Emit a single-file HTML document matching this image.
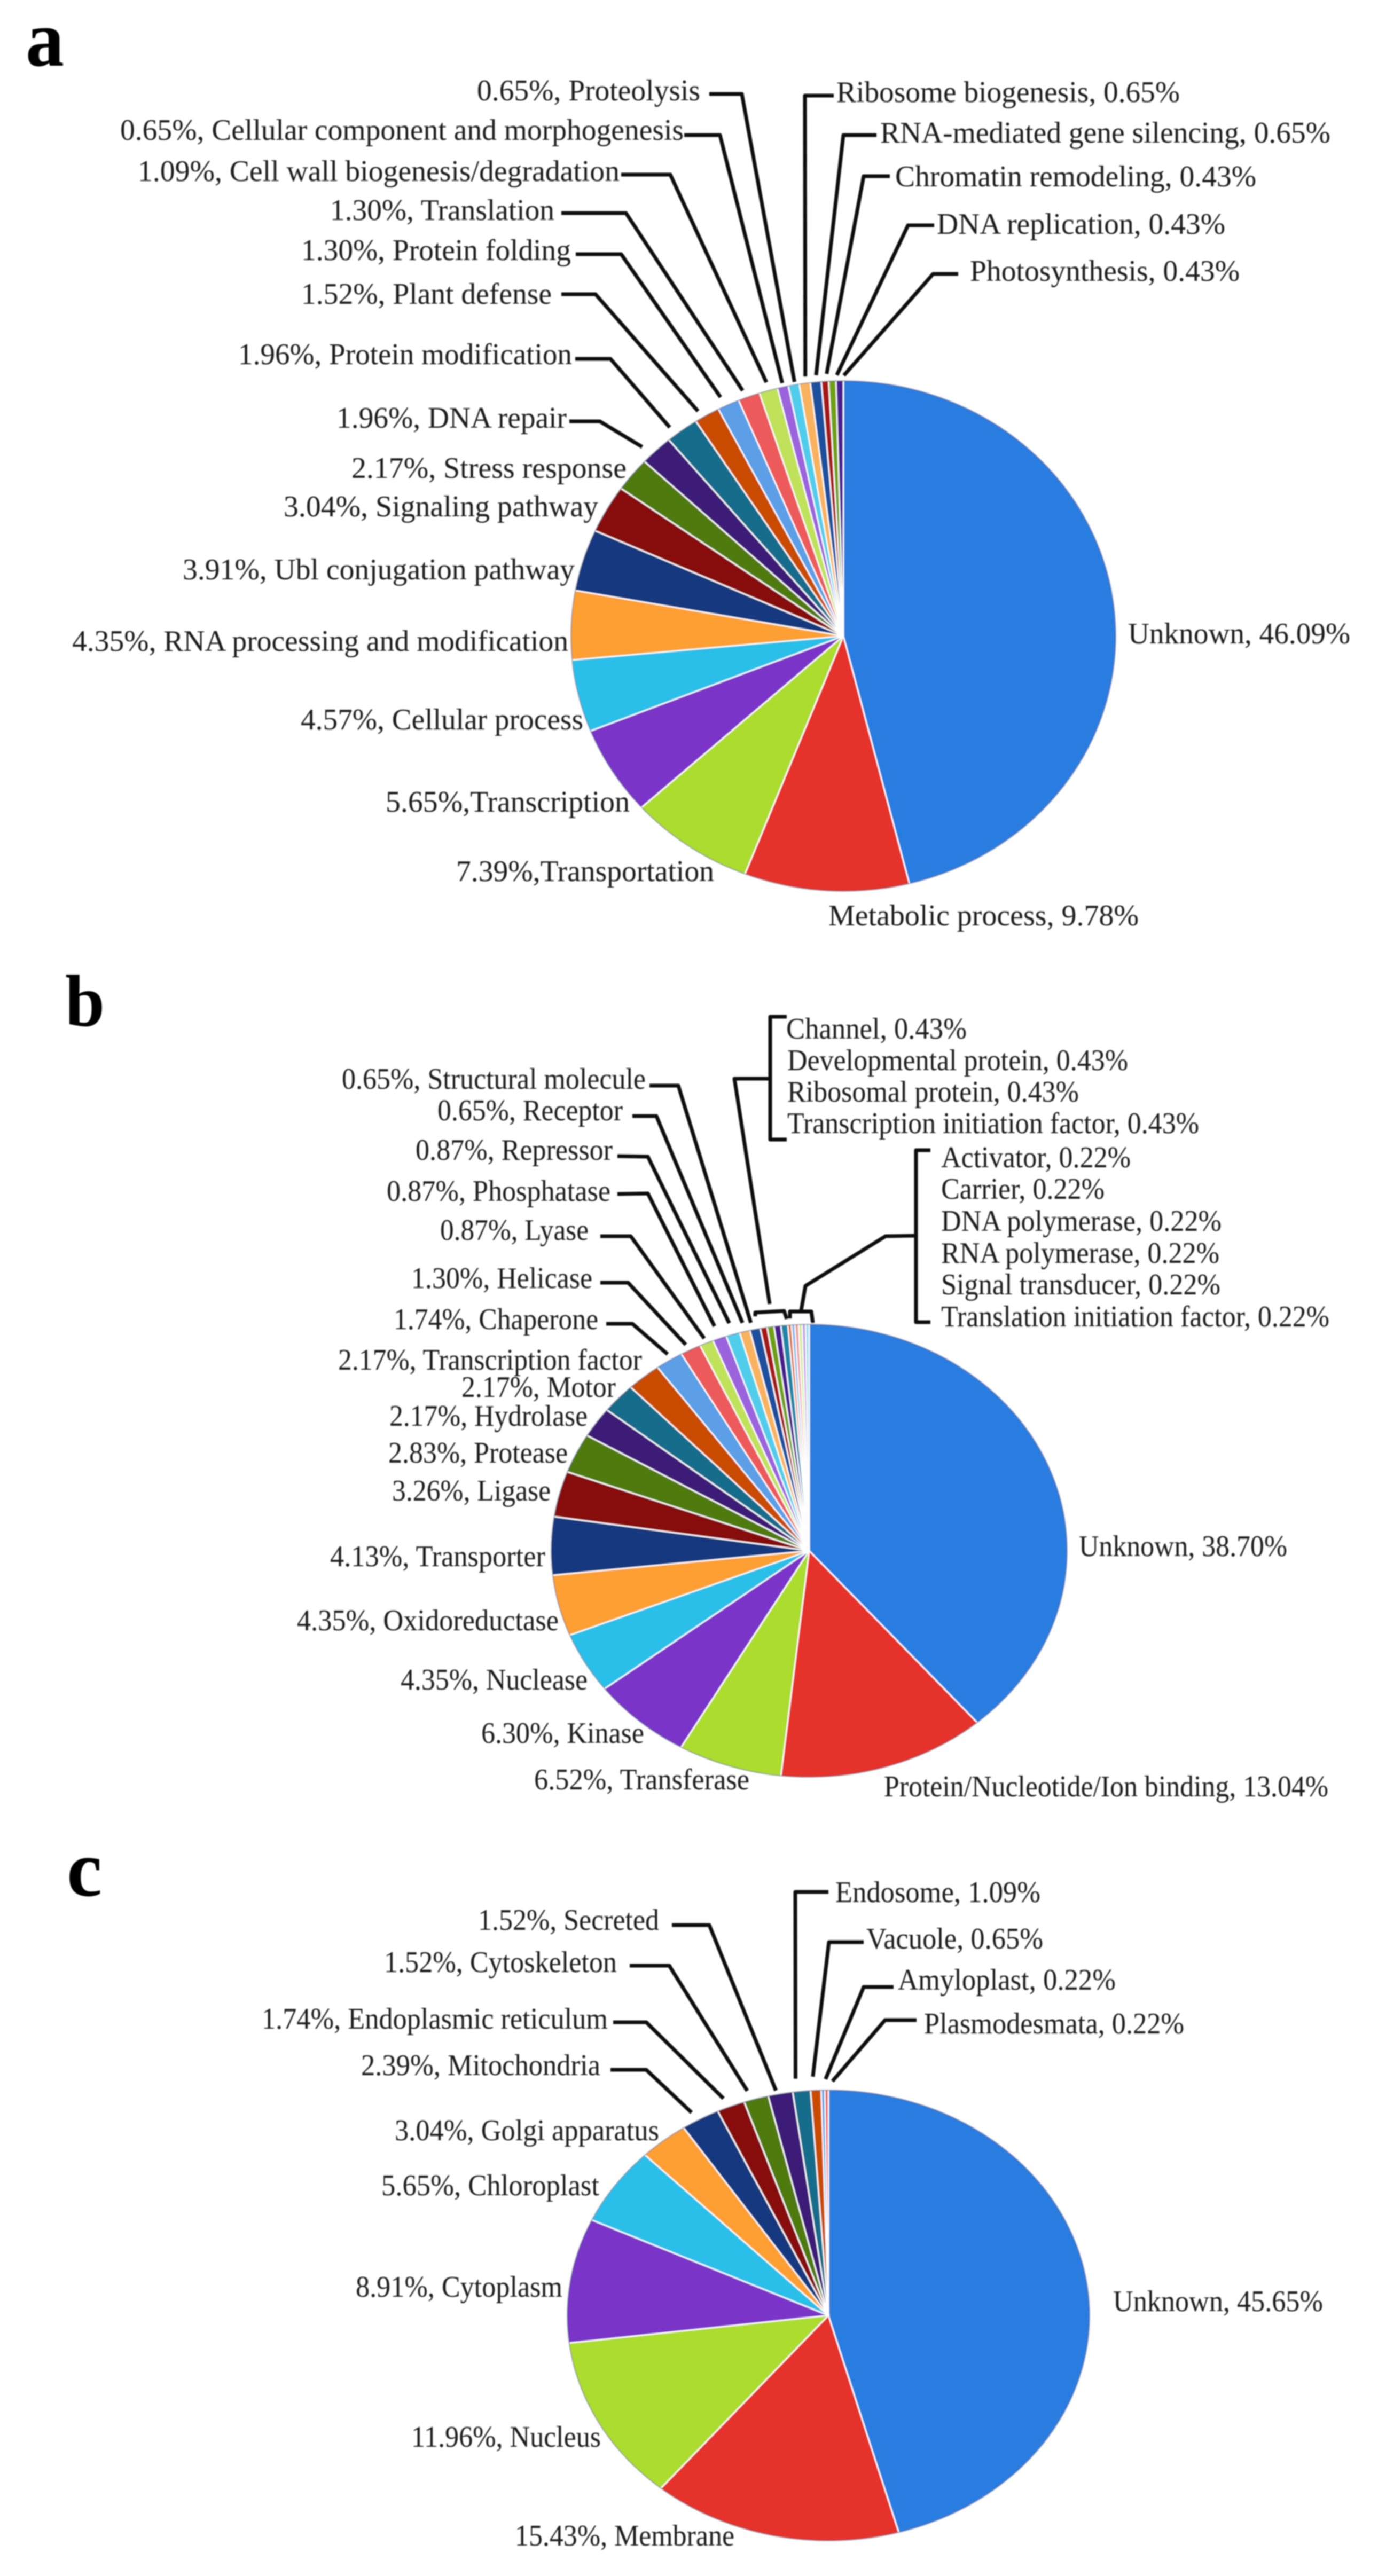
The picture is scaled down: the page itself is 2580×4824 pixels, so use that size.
<!DOCTYPE html>
<html lang="en">
<head>
<meta charset="utf-8">
<title>Functional classification pie charts</title>
<style>
html,body{margin:0;padding:0;background:#fff;}
svg{display:block;}
text{font-family:"Liberation Serif",serif;fill:#1c1c1c;}
.panel{font-weight:bold;fill:#000;}
.lead{fill:none;stroke:#0c0c0c;stroke-width:7;stroke-linejoin:round;}
</style>
</head>
<body>
<svg id="figure" xmlns="http://www.w3.org/2000/svg" width="2580" height="4824" viewBox="0 0 2580 4824">
  <defs><filter id="soft" x="0" y="0" width="1" height="1"><feGaussianBlur stdDeviation="1.1"/></filter></defs>
  <rect width="2580" height="4824" fill="#fff"/>
  <g id="root" filter="url(#soft)">
    <text class="panel" x="48" y="123" font-size="150" textLength="72" lengthAdjust="spacingAndGlyphs">a</text>
    <text class="panel" x="122" y="1921" font-size="138" textLength="74" lengthAdjust="spacingAndGlyphs">b</text>
    <text class="panel" x="125" y="3550" font-size="150" textLength="66" lengthAdjust="spacingAndGlyphs">c</text>
    <g>
      <polyline class="lead" points="1473,1904 1442,1904 1442,2134 1473,2134"/>
      <polyline class="lead" points="1442,2020 1375,2020 1441,2442"/>
      <polyline class="lead" points="1414,2465 1414,2458 1468,2455 1473,2470"/>
    </g>
    <g>
      <polyline class="lead" points="1742,2154 1715,2154 1715,2476 1742,2476"/>
      <polyline class="lead" points="1715,2314 1658,2315 1508,2408 1500,2454"/>
      <polyline class="lead" points="1479,2469 1479,2456 1519,2456 1522,2478"/>
    </g>
  </g>
</svg>
<script>
// ---------- Data: panel a ----------
const aCategories = ["Unknown","Metabolic process","Transportation","Transcription","Cellular process","RNA processing and modification","Ubl conjugation pathway","Signaling pathway","Stress response","DNA repair","Protein modification","Plant defense","Protein folding","Translation","Cell wall biogenesis/degradation","Cellular component and morphogenesis","Proteolysis","Ribosome biogenesis","RNA-mediated gene silencing","Chromatin remodeling","DNA replication","Photosynthesis"];
const aValues = [46.09,9.78,7.39,5.65,4.57,4.35,3.91,3.04,2.17,1.96,1.96,1.52,1.30,1.30,1.09,0.65,0.65,0.65,0.65,0.43,0.43,0.43];
// ---------- Data: panel b ----------
const bCategories = ["Unknown","Protein/Nucleotide/Ion binding","Transferase","Kinase","Nuclease","Oxidoreductase","Transporter","Ligase","Protease","Hydrolase","Motor","Transcription factor","Chaperone","Helicase","Lyase","Phosphatase","Repressor","Receptor","Structural molecule","Channel","Developmental protein","Ribosomal protein","Transcription initiation factor","Activator","Carrier","DNA polymerase","RNA polymerase","Signal transducer","Translation initiation factor"];
const bValues = [38.70,13.04,6.52,6.30,4.35,4.35,4.13,3.26,2.83,2.17,2.17,2.17,1.74,1.30,0.87,0.87,0.87,0.65,0.65,0.43,0.43,0.43,0.43,0.22,0.22,0.22,0.22,0.22,0.22];
// ---------- Data: panel c ----------
const cCategories = ["Unknown","Membrane","Nucleus","Cytoplasm","Chloroplast","Golgi apparatus","Mitochondria","Endoplasmic reticulum","Cytoskeleton","Secreted","Endosome","Vacuole","Amyloplast","Plasmodesmata"];
const cValues = [45.65,15.43,11.96,8.91,5.65,3.04,2.39,1.74,1.52,1.52,1.09,0.65,0.22,0.22];

// ---------- Style and layout (not data) ----------
const palette = ["#2c7de0","#e5302a","#acdc2e","#7a34c8","#2abfe8","#fd9f32","#14387e","#871111","#4f7a11","#3d1b78","#126c8b","#c94b06","#5c9fe6","#ec5a5c","#bfe25a","#9b63dc","#51cdec","#f9b35e","#1c4f9e","#a81818","#6fa010","#4a1e90","#1e86a8","#e0601a","#8ab8ea","#f09090","#d4e88f","#bba0e4","#9eddf0"];
const aGeometry = {cx:1579, cy:1191, rx:511, ry:479};
const bGeometry = {cx:1515, cy:2904, rx:484, ry:425};
const cGeometry = {cx:1551, cy:4336, rx:490, ry:423};
// label box per slice: x start, x end, baseline, format
const aLabelBoxes = [[2112,2528,1205,"cv"],[1551,2132,1733,"cv"],[854,1337,1650,"vt"],[722,1179,1520,"vt"],[563,1092,1366,"v"],[135,1064,1219,"v"],[342,1076,1085,"v"],[531,1120,967,"v"],[658,1173,895,"v"],[630,1061,801,"v"],[446,1071,682,"v"],[564,1033,569,"v"],[564,1069,487,"v"],[618,1038,412,"v"],[258,1160,339,"v"],[225,1280,262,"v"],[893,1311,188,"v"],[1566,2209,191,"cv"],[1648,2491,267,"cv"],[1676,2352,349,"cv"],[1754,2294,438,"cv"],[1816,2321,526,"cv"]];
const bLabelBoxes = [[2020,2410,2914,"cv"],[1655,2487,3364,"cv"],[1000,1403,3351,"v"],[901,1206,3264,"v"],[750,1100,3164,"v"],[556,1046,3053,"v"],[618,1021,2933,"v"],[734,1031,2810,"v"],[727,1063,2739,"v"],[729,1100,2670,"v"],[864,1153,2616,"v"],[633,1202,2565,"v"],[737,1120,2489,"v"],[770,1109,2412,"v"],[824,1102,2322,"v"],[724,1143,2249,"v"],[778,1147,2172,"v"],[819,1166,2098,"v"],[640,1209,2039,"v"],[1472,1810,1945,"cv"],[1474,2112,2004,"cv"],[1474,2020,2063,"cv"],[1474,2245,2122,"cv"],[1762,2117,2186,"cv"],[1762,2068,2245,"cv"],[1762,2287,2305,"cv"],[1762,2283,2365,"cv"],[1762,2285,2424,"cv"],[1762,2489,2484,"cv"]];
const cLabelBoxes = [[2084,2477,4328,"cv"],[964,1375,4767,"v"],[770,1125,4582,"v"],[666,1053,4301,"v"],[714,1122,4111,"v"],[739,1234,4008,"v"],[676,1124,3886,"v"],[490,1138,3799,"v"],[719,1155,3693,"v"],[895,1234,3614,"v"],[1564,1948,3562,"cv"],[1622,1953,3649,"cv"],[1681,2089,3726,"cv"],[1730,2217,3808,"cv"]];
// leader per slice: slice index, label end x/y, elbow x/y, end nudge dx/dy
const aLeaders = [[9,1066,789,1123,789,-17,3],[10,1077,672,1143,672,-15,5],[11,1051,551,1115,551,-10,4],[12,1078,476,1163,476,-9,-2],[13,1051,399,1172,399,-7,1],[14,1163,327,1255,327,0,-3],[15,1281,253,1348,253,2,5],[16,1328,176,1389,176,4,7],[17,1561,179,1507,179,3,0],[18,1641,253,1579,253,2,0],[19,1666,330,1617,330,4,-1],[20,1749,422,1700,422,9,2],[21,1794,513,1747,513,8,3]];
const bLeaders = [[12,1135,2479,1184,2479,4,-2],[13,1124,2402,1176,2402,-3,1],[14,1124,2315,1181,2315,1,2],[15,1156,2236,1213,2235,-5,-12],[16,1156,2165,1213,2166,-3,-10],[17,1184,2090,1229,2090,-1,-5],[18,1216,2033,1270,2033,-5,-1]];
const cLeaders = [[6,1143,3876,1210,3876,-10,-2],[7,1148,3787,1210,3787,-9,-4],[8,1179,3681,1253,3681,-13,-4],[9,1258,3605,1328,3605,-6,5],[10,1551,3543,1489,3543,-10,-12],[11,1617,3637,1552,3637,-5,-14],[12,1673,3721,1617,3721,5,-9],[13,1716,3783,1657,3783,11,-5]];

const SVG_NS = "http://www.w3.org/2000/svg";
const LEADER_GAP = 1.025;
const root = document.getElementById("root");

function slug(s){ return s.toLowerCase().replace(/[^a-z0-9]+/g,"-").replace(/^-|-$/g,""); }
function angleScale(total){ return function(v){ return v / total * 2 * Math.PI; }; }
function px(g, t, k){ return g.cx + g.rx * k * Math.sin(t); }
function py(g, t, k){ return g.cy - g.ry * k * Math.cos(t); }
function formatLabel(cat, val, fmt){
  const v = val.toFixed(2) + "%";
  if (fmt === "cv") return cat + ", " + v;
  if (fmt === "vt") return v + "," + cat;
  return v + ", " + cat;
}

function drawPie(id, g, categories, values, boxes, leaders){
  const group = document.createElementNS(SVG_NS, "g");
  
  
  root.appendChild(group);
  const total = values.reduce(function(a, b){ return a + b; }, 0);
  const toAngle = angleScale(total);
  const mids = [];
  let cum = 0;
  values.forEach(function(v, i){
    const t0 = toAngle(cum), t1 = toAngle(cum + v);
    cum += v;
    mids.push((t0 + t1) / 2);
    const large = (t1 - t0) > Math.PI ? 1 : 0;
    const path = document.createElementNS(SVG_NS, "path");
    path.setAttribute("d", "M" + g.cx + " " + g.cy + " L" + px(g, t0, 1) + " " + py(g, t0, 1) + " A" + g.rx + " " + g.ry + " 0 " + large + " 1 " + px(g, t1, 1) + " " + py(g, t1, 1) + " Z");
    path.setAttribute("fill", palette[i % palette.length]);
    path.setAttribute("stroke", "#ffffff");
    path.setAttribute("stroke-width", "2.5");
    
    
    group.appendChild(path);
  });
  const rim = document.createElementNS(SVG_NS, "ellipse");
  rim.setAttribute("cx", g.cx);
  rim.setAttribute("cy", g.cy);
  rim.setAttribute("rx", g.rx - 1);
  rim.setAttribute("ry", g.ry - 1);
  rim.setAttribute("fill", "none");
  rim.setAttribute("stroke", "rgba(0,20,70,0.35)");
  rim.setAttribute("stroke-width", "2");
  
  
  group.appendChild(rim);
  leaders.forEach(function(l){
    const m = mids[l[0]];
    const endX = px(g, m, LEADER_GAP) + l[5];
    const endY = py(g, m, LEADER_GAP) + l[6];
    const line = document.createElementNS(SVG_NS, "polyline");
    line.setAttribute("class", "lead");
    line.setAttribute("points", l[1] + "," + l[2] + " " + l[3] + "," + l[4] + " " + endX + "," + endY);
    
    
    group.appendChild(line);
  });
  boxes.forEach(function(b, i){
    const t = document.createElementNS(SVG_NS, "text");
    t.setAttribute("x", b[0]);
    t.setAttribute("y", b[2]);
    t.setAttribute("font-size", "56");
    t.setAttribute("textLength", b[1] - b[0]);
    t.setAttribute("lengthAdjust", "spacingAndGlyphs");
    t.textContent = formatLabel(categories[i], values[i], b[3]);
    
    
    group.appendChild(t);
  });
}

drawPie("a", aGeometry, aCategories, aValues, aLabelBoxes, aLeaders);
drawPie("b", bGeometry, bCategories, bValues, bLabelBoxes, bLeaders);
drawPie("c", cGeometry, cCategories, cValues, cLabelBoxes, cLeaders);
</script>
</body>
</html>
